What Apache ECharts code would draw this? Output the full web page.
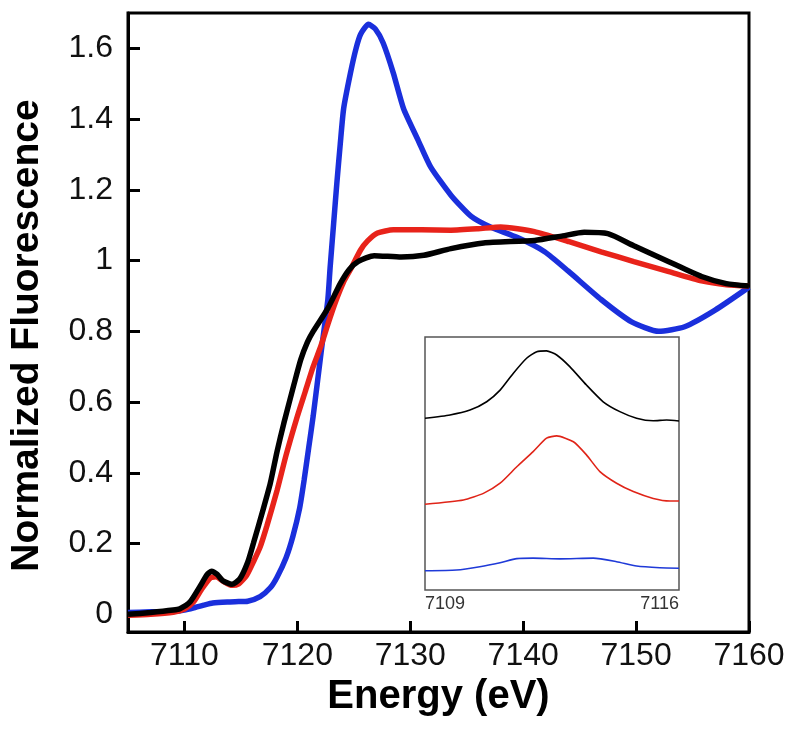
<!DOCTYPE html>
<html>
<head>
<meta charset="utf-8">
<script src="https://cdn.jsdelivr.net/npm/echarts@6/dist/echarts.min.js"></script>
<style>
html,body{margin:0;padding:0;background:#fff;}
#c{width:800px;height:732px;}
</style>
</head>
<body>
<div id="c"></div>
<script>
// Main XANES spectra: [energy (eV), normalized fluorescence]
var blueSpectrum = [
  [7105,0.005],[7107,0.007],[7109,0.008],[7110,0.012],[7111,0.02],[7111.7,0.026],[7112.5,0.032],
  [7113.8,0.035],[7114.8,0.036],[7115.6,0.037],[7116.7,0.05],[7117.6,0.075],[7118.2,0.105],
  [7119.0,0.16],[7119.6,0.22],[7120.2,0.3],[7120.6,0.38],[7121.0,0.47],[7121.4,0.56],
  [7122.1,0.74],[7122.7,0.89],[7122.9,0.98],[7123.2,1.1],[7123.5,1.22],[7123.8,1.33],
  [7124.1,1.43],[7124.7,1.53],[7125.2,1.6],[7125.6,1.64],[7126.3,1.668],[7126.9,1.655],
  [7127.6,1.615],[7128.5,1.53],[7129.4,1.43],[7130.7,1.34],[7131.8,1.265],[7133.6,1.185],
  [7135.4,1.125],[7137.1,1.095],[7139.5,1.065],[7141.9,1.025],[7144,0.97],[7146.9,0.89],
  [7149.6,0.827],[7152,0.80],[7154.3,0.813],[7157,0.86],[7160,0.925]
];
var redSpectrum = [
  [7105,-0.003],[7107,0.0],[7109,0.006],[7110,0.015],[7110.8,0.035],[7111.5,0.07],[7112.3,0.103],
  [7112.8,0.106],[7113.4,0.094],[7114.2,0.082],[7114.8,0.086],[7115.5,0.11],[7116.2,0.155],
  [7116.7,0.19],[7117.3,0.25],[7118.2,0.35],[7119.0,0.45],[7120.0,0.56],[7120.7,0.63],
  [7121.4,0.70],[7122.1,0.76],[7122.7,0.82],[7123.4,0.885],[7124.1,0.94],[7124.7,0.975],
  [7125.6,1.03],[7126.2,1.055],[7127.1,1.078],[7128.5,1.087],[7131,1.087],[7133.6,1.086],
  [7136,1.09],[7138,1.095],[7141,1.082],[7144,1.054],[7146.9,1.025],[7149.8,0.997],
  [7152.9,0.969],[7155.8,0.943],[7158,0.932],[7160,0.928]
];
var blackSpectrum = [
  [7105,0.0],[7107,0.005],[7109,0.012],[7109.6,0.016],[7110.5,0.035],[7111.4,0.08],[7112.0,0.112],
  [7112.4,0.122],[7112.9,0.113],[7113.4,0.095],[7114.2,0.085],[7114.9,0.10],[7115.6,0.147],
  [7116.1,0.20],[7117,0.30],[7117.6,0.37],[7118.2,0.46],[7118.8,0.54],[7119.7,0.65],
  [7120.3,0.72],[7120.9,0.77],[7121.4,0.80],[7122.7,0.865],[7123.8,0.935],[7124.6,0.975],
  [7125.4,0.998],[7126.8,1.014],[7129.2,1.01],[7131.2,1.015],[7133.6,1.034],[7136.5,1.05],
  [7141,1.057],[7143.5,1.07],[7145.4,1.08],[7147.5,1.076],[7149.8,1.042],[7152.9,0.997],
  [7155.8,0.955],[7158,0.935],[7160,0.928]
];

// Inset: pre-edge region, stacked traces (arbitrary offset units)
var insetBlack = [
  [7109.0,0.679],[7109.69,0.692],[7110.24,0.711],[7110.70,0.744],[7111.07,0.79],[7111.43,0.856],
  [7111.8,0.916],[7112.08,0.942],[7112.35,0.945],[7112.63,0.929],[7112.99,0.883],[7113.45,0.81],
  [7113.91,0.744],[7114.37,0.705],[7114.83,0.679],[7115.29,0.669],[7115.66,0.672],[7116.0,0.668]
];
var insetRed = [
  [7109.0,0.339],[7110.06,0.356],[7110.61,0.382],[7111.07,0.422],[7111.53,0.487],[7111.98,0.547],
  [7112.35,0.60],[7112.63,0.609],[7113.09,0.586],[7113.45,0.534],[7113.82,0.468],[7114.28,0.422],
  [7114.74,0.389],[7115.29,0.362],[7115.75,0.352],[7116.0,0.352]
];
var insetBlue = [
  [7109.0,0.076],[7109.87,0.079],[7110.51,0.092],[7111.07,0.108],[7111.53,0.124],[7111.98,0.126],
  [7112.72,0.123],[7113.64,0.126],[7114.28,0.112],[7114.83,0.095],[7115.47,0.088],[7116.0,0.086]
];

var xTicks = [7110,7120,7130,7140,7150,7160];
var yTicks = [0,0.2,0.4,0.6,0.8,1,1.2,1.4,1.6];
var insetXTicks = [7109,7116];

var BLUE = '#1a2fdc', RED = '#e8231a', BLACK = '#000000';
var FONT = 'Liberation Sans, Arial, Helvetica, sans-serif';
function plain(v){ return String(v); }

var chart = echarts.init(document.getElementById('c'), null, {renderer:'canvas'});
chart.setOption({
  backgroundColor:'#ffffff',
  animation:false,
  grid:[
    {left:128, top:13, right:51, bottom:100, outerBoundsMode:'none', containLabel:false,
     show:true, borderColor:'#000', borderWidth:3, backgroundColor:'transparent'},
    {left:425, top:337, width:254, height:253, outerBoundsMode:'none', containLabel:false,
     show:true, borderColor:'#555', borderWidth:1.5, backgroundColor:'transparent'}
  ],
  xAxis:[
    {type:'value', gridIndex:0, min:7105, max:7160,
     name:'Energy (eV)', nameLocation:'middle', nameGap:45, nameMoveOverlap:false,
     nameTextStyle:{fontFamily:FONT, fontWeight:'bold', fontSize:40, color:'#000'},
     axisLine:{show:true, onZero:false, lineStyle:{color:'#000', width:3}},
     axisTick:{show:true, inside:true, length:11, lineStyle:{color:'#000', width:3}, customValues:xTicks},
     axisLabel:{show:true, margin:8, fontFamily:FONT, fontSize:32, color:'#111', customValues:xTicks, formatter:plain},
     splitLine:{show:false}},
    {type:'value', gridIndex:1, min:7109, max:7116,
     axisLine:{show:false, onZero:false}, axisTick:{show:false},
     axisLabel:{show:true, margin:5, fontFamily:FONT, fontSize:18, color:'#333', customValues:insetXTicks,
                formatter:plain, alignMinLabel:'left', alignMaxLabel:'right'},
     splitLine:{show:false}}
  ],
  yAxis:[
    {type:'value', gridIndex:0, min:-0.05, max:1.7,
     name:'Normalized Fluorescence', nameLocation:'middle', nameGap:81, nameRotate:90, nameMoveOverlap:false,
     nameTextStyle:{fontFamily:FONT, fontWeight:'bold', fontSize:39, color:'#000', padding:[0,26,0,0]},
     axisLine:{show:true, onZero:false, lineStyle:{color:'#000', width:3}},
     axisTick:{show:true, inside:true, length:12, lineStyle:{color:'#000', width:3}, customValues:yTicks},
     axisLabel:{show:true, margin:15, fontFamily:FONT, fontSize:32, color:'#111', customValues:yTicks, formatter:plain},
     splitLine:{show:false}},
    {type:'value', gridIndex:1, min:0, max:1, show:false, splitLine:{show:false}}
  ],
  series:[
    {type:'line', xAxisIndex:0, yAxisIndex:0, data:blueSpectrum, showSymbol:false, smooth:0.2,
     lineStyle:{color:BLUE, width:5.5}, itemStyle:{color:BLUE}, z:2},
    {type:'line', xAxisIndex:0, yAxisIndex:0, data:redSpectrum, showSymbol:false, smooth:0.2,
     lineStyle:{color:RED, width:5.5}, itemStyle:{color:RED}, z:3},
    {type:'line', xAxisIndex:0, yAxisIndex:0, data:blackSpectrum, showSymbol:false, smooth:0.2,
     lineStyle:{color:BLACK, width:5.5}, itemStyle:{color:BLACK}, z:4},
    {type:'line', xAxisIndex:1, yAxisIndex:1, data:insetBlack, showSymbol:false, smooth:0.2,
     lineStyle:{color:BLACK, width:1.6}, itemStyle:{color:BLACK}, z:5},
    {type:'line', xAxisIndex:1, yAxisIndex:1, data:insetRed, showSymbol:false, smooth:0.2,
     lineStyle:{color:'#e02418', width:1.6}, itemStyle:{color:'#e02418'}, z:5},
    {type:'line', xAxisIndex:1, yAxisIndex:1, data:insetBlue, showSymbol:false, smooth:0.2,
     lineStyle:{color:'#1f3ad8', width:1.6}, itemStyle:{color:'#1f3ad8'}, z:5}
  ]
});
</script>
</body>
</html>
